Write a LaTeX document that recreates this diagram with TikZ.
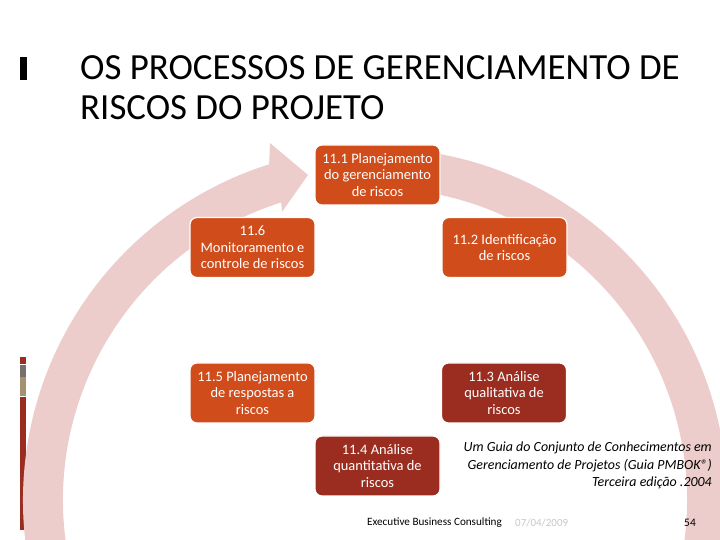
\documentclass[tikz,border=0pt]{standalone}
\usepackage{fontspec}
\setmainfont{Carlito}
\usepackage{tikz}
\usetikzlibrary{calc}
\definecolor{boxorange}{RGB}{208, 76, 26}
\definecolor{boxdark}{RGB}{155, 44, 32}
\definecolor{ringpink}{RGB}{236, 205, 203}
\definecolor{bargray}{RGB}{118, 112, 108}
\definecolor{bartan}{RGB}{166, 145, 110}

\begin{document}
\begin{tikzpicture}[x=1bp, y=1bp,
    procbox/.style={fill=boxorange, draw=white, line width=1.2bp, rounded corners=7bp,
        text=white, align=center, minimum width=125bp,
        minimum height=60bp, inner sep=2bp, font=\fontsize{14.5}{16.5}\selectfont},
    procdark/.style={procbox, fill=boxdark}]
        \useasboundingbox (0,0) rectangle (720,540);

        % Side bars
        \fill[black] (20,460) rectangle (27,483);
        \fill[boxdark] (20,176) rectangle (26,183);
        \fill[bargray] (20,163) rectangle (26,175);
        \fill[bartan] (20,144) rectangle (26,163);
        \fill[boxdark] (20,10) rectangle (26,143);

        % Title
        \node[anchor=base west, inner sep=0, font=\fontsize{37}{44}\selectfont] (title1) at (80,460) {OS PROCESSOS DE GERENCIAMENTO DE};
        \node[anchor=base west, inner sep=0, font=\fontsize{37}{44}\selectfont] (title2) at (80,420) {RISCOS DO PROJETO};

        % Cycle arrow
        \begin{scope}
            \clip (0,0) rectangle (720,540);
            \fill[ringpink, shift={(375,40)}] (84:352) arc[start angle=84, end angle=-252.5, radius=352]
                -- (-105,357) -- (-67,325) -- (-93,288) -- (-252.5:312)
                arc[start angle=-252.5, end angle=84, radius=312] -- cycle;
        \end{scope}

        % Process boxes
        \node[procbox] (plan) at (377.5,365) {11.1 Planejamento\\ do gerenciamento\\ de riscos};
        \node[procbox] (ident) at (504.5,292.5) {11.2 Identificação\\ de riscos};
        \node[procdark] (qual) at (504,147) {11.3 Análise\\ qualitativa de\\ riscos};
        \node[procdark] (quant) at (377.5,74) {11.4 Análise\\ quantitativa de\\ riscos};
        \node[procbox] (resp) at (252.5,147) {11.5 Planejamento\\ de respostas a\\ riscos};
        \node[procbox] (monit) at (252.5,292.5) {11.6\\ Monitoramento e\\ controle de riscos};

        % Reference
        \node[anchor=north east, align=right, inner sep=0, font=\fontsize{14}{17.5}\itshape] (guia) at (712,98)
            {Um Guia do Conjunto de Conhecimentos em\\ Gerenciamento de Projetos (Guia PMBOK®)\\ Terceira edição .2004};

        % Footer
        \node[anchor=west, inner sep=0, font=\fontsize{11.2}{13}\selectfont] (firm) at (367,17) {Executive Business Consulting};
        \node[anchor=west, inner sep=0, text=black!22, font=\fontsize{11}{13}\selectfont] (date) at (515,17) {07/04/2009};
        \node[anchor=west, inner sep=0, font=\fontsize{11.5}{13}\selectfont] (page) at (684,17) {54};
    \end{tikzpicture}
\end{document}
